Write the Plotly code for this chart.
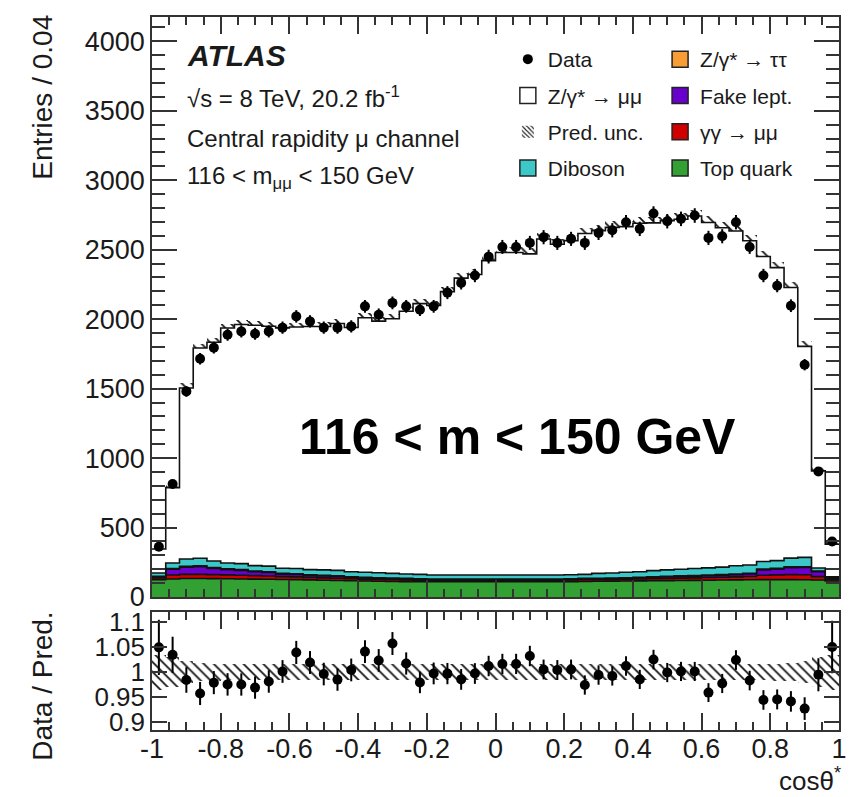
import numpy as np
import plotly.graph_objects as go

# ---------------- data ----------------
n_bins = 50
bin_edges = np.linspace(-1.0, 1.0, n_bins + 1)
bin_centers = 0.5 * (bin_edges[:-1] + bin_edges[1:])

data_counts = [362, 814, 1480, 1715, 1795, 1888, 1912, 1895, 1912, 1939,
               2020, 1984, 1939, 1939, 1948, 2092, 2032, 2117, 2092, 2068,
               2092, 2191, 2261, 2314, 2450, 2520, 2520, 2549, 2590, 2549,
               2578, 2549, 2621, 2640, 2698, 2650, 2760, 2705, 2722, 2746,
               2585, 2597, 2698, 2520, 2314, 2241, 2097, 1672, 903, 399]

pred_total = [345, 787, 1504, 1792, 1834, 1936, 1961, 1956, 1949, 1937,
              1944, 1947, 1947, 1969, 1940, 2010, 1986, 2003, 2057, 2112,
              2098, 2198, 2295, 2321, 2421, 2480, 2480, 2470, 2577, 2539,
              2565, 2617, 2637, 2661, 2666, 2690, 2693, 2708, 2719, 2743,
              2696, 2658, 2635, 2564, 2451, 2371, 2228, 1804, 908, 380]

bkg_top = [125, 130, 133, 133, 132, 131, 130, 129, 128, 126,
           125, 123, 121, 119, 117, 115, 113, 112, 111, 110,
           110, 110, 110, 110, 110, 110, 110, 110, 110, 110,
           111, 112, 113, 114, 115, 116, 117, 118, 119, 120,
           121, 122, 123, 124, 125, 125, 125, 124, 122, 115]
bkg_yy = [12, 28, 30, 30, 29, 28, 27, 25, 23, 21,
          20, 18, 17, 16, 15, 14, 13, 12, 12, 11,
          11, 10, 10, 10, 10, 10, 10, 10, 11, 11,
          11, 12, 12, 13, 13, 14, 15, 16, 17, 18,
          19, 20, 22, 24, 32, 34, 36, 36, 25, 12]
bkg_fake = [8, 42, 52, 55, 45, 38, 35, 28, 26, 18,
            17, 14, 14, 13, 10, 9, 9, 8, 7, 6,
            5, 5, 5, 5, 5, 5, 5, 5, 5, 5,
            5, 6, 6, 6, 7, 8, 9, 10, 11, 12,
            13, 14, 16, 18, 38, 42, 50, 52, 35, 8]
bkg_tautau = [4, 5, 6, 6, 6, 6, 5, 5, 5, 5,
              5, 5, 5, 5, 4, 4, 4, 4, 4, 4,
              4, 4, 4, 4, 4, 4, 4, 4, 4, 4,
              4, 4, 4, 4, 4, 4, 4, 5, 5, 5,
              5, 5, 5, 5, 6, 6, 6, 6, 5, 4]
bkg_diboson = [24, 40, 53, 55, 47, 42, 43, 39, 40, 37,
               38, 37, 38, 39, 36, 36, 36, 34, 32, 32,
               28, 29, 29, 29, 29, 29, 29, 29, 28, 28,
               29, 29, 35, 36, 39, 40, 45, 46, 48, 50,
               52, 54, 59, 59, 54, 55, 63, 67, 22, 7]

pred_unc_frac = [0.035, 0.030, 0.022, 0.018, 0.017, 0.016, 0.016, 0.016, 0.016, 0.016,
                 0.016, 0.016, 0.016, 0.016, 0.016, 0.016, 0.016, 0.016, 0.016, 0.016,
                 0.016, 0.016, 0.016, 0.016, 0.016, 0.016, 0.016, 0.016, 0.016, 0.016,
                 0.016, 0.016, 0.016, 0.016, 0.016, 0.016, 0.016, 0.016, 0.016, 0.016,
                 0.016, 0.016, 0.016, 0.016, 0.016, 0.017, 0.018, 0.022, 0.030, 0.035]

x_tick_vals = [-1, -0.8, -0.6, -0.4, -0.2, 0, 0.2, 0.4, 0.6, 0.8, 1]
x_tick_text = ["-1", "-0.8", "-0.6", "-0.4", "-0.2", "0", "0.2", "0.4", "0.6", "0.8", "1"]
r_tick_vals = [0.9, 0.95, 1.0, 1.05, 1.1]
r_tick_text = ["0.9", "0.95", "1", "1.05", "1.1"]

names = ["Top quark", "\u03b3\u03b3 \u2192 \u03bc\u03bc", "Fake lept.",
         "Z/\u03b3* \u2192 \u03c4\u03c4", "Diboson", "Z/\u03b3* \u2192 \u03bc\u03bc"]
colors = ["#33a033", "#d00000", "#6a00cc", "#f89c35", "#3cc8c8", "#ffffff"]

# ---------------- derived ----------------
data = np.array(data_counts, float)
pred = np.array(pred_total, float)
unc = np.array(pred_unc_frac, float)
bkgs = [np.array(b, float) for b in (bkg_top, bkg_yy, bkg_fake, bkg_tautau, bkg_diboson)]
zmumu = pred - sum(bkgs)
layers = bkgs + [zmumu]

FONT = "Liberation Sans, Arial, Helvetica, sans-serif"
TXT = "#1a1a1a"

# layout geometry (pixels)
W, H = 853, 797
ML, MR, MT, MB = 152, 6, 17, 67
PW, PH = W - ML - MR, H - MT - MB


def px_x(x):
    return (x - ML) / PW


def px_y(y):
    return (H - MB - y) / PH


fig = go.Figure()

# stacked step fills (main panel)
cum = np.zeros(n_bins)
for i, (vals, col) in enumerate(zip(layers, colors)):
    cum = cum + vals
    fig.add_trace(go.Scatter(
        x=bin_edges, y=np.append(cum, cum[-1]), mode="lines",
        line=dict(shape="hv", color="#111111", width=1.6),
        fill="tozeroy" if i == 0 else "tonexty", fillcolor=col,
        showlegend=False, hoverinfo="skip", xaxis="x", yaxis="y"))

# prediction uncertainty (main)
fig.add_trace(go.Bar(
    x=bin_centers, y=2 * unc * pred, base=pred * (1 - unc), width=0.04,
    marker=dict(color="rgba(0,0,0,0)", line=dict(width=0),
                pattern=dict(shape="\\", fgcolor="#111111", bgcolor="rgba(0,0,0,0)",
                             size=7, solidity=0.25, fillmode="replace")),
    showlegend=False, hoverinfo="skip", xaxis="x", yaxis="y"))

# data (main)
fig.add_trace(go.Scatter(
    x=bin_centers, y=data, mode="markers", name="Data",
    marker=dict(symbol="circle", size=10, color="black"),
    error_y=dict(type="data", array=np.sqrt(data), color="black", thickness=2, width=0),
    legend="legend", legendgroup="a1", xaxis="x", yaxis="y"))

# ratio panel
fig.add_trace(go.Bar(
    x=bin_centers, y=2 * unc, base=1 - unc, width=0.04,
    marker=dict(color="rgba(0,0,0,0)", line=dict(width=0),
                pattern=dict(shape="\\", fgcolor="#111111", bgcolor="rgba(0,0,0,0)",
                             size=7, solidity=0.25, fillmode="replace")),
    showlegend=False, hoverinfo="skip", xaxis="x2", yaxis="y2"))
fig.add_trace(go.Scatter(
    x=bin_centers, y=data / pred, mode="markers",
    marker=dict(symbol="circle", size=10, color="black"),
    error_y=dict(type="data", array=np.sqrt(data) / pred, color="black", thickness=2, width=0),
    showlegend=False, xaxis="x2", yaxis="y2"))


# legend entries
def box_entry(name, col, leg, grp):
    fig.add_trace(go.Scatter(
        x=[None], y=[None], mode="markers", name=name,
        marker=dict(symbol="square", size=22, color=col, line=dict(color="#222222", width=1.5)),
        legend=leg, legendgroup=grp, xaxis="x", yaxis="y"))


box_entry(names[5], colors[5], "legend", "a2")
fig.add_trace(go.Bar(
    x=[None], y=[None], name="Pred. unc.",
    marker=dict(color="rgba(0,0,0,0)", line=dict(width=0),
                pattern=dict(shape="\\", fgcolor="#111111", bgcolor="white",
                             size=4, solidity=0.35, fillmode="replace")),
    legend="legend", legendgroup="a3", xaxis="x", yaxis="y"))
box_entry(names[4], colors[4], "legend", "a4")
box_entry(names[3], colors[3], "legend2", "b1")
box_entry(names[2], colors[2], "legend2", "b2")
box_entry(names[1], colors[1], "legend2", "b3")
box_entry(names[0], colors[0], "legend2", "b4")

axis_common = dict(showline=True, linecolor="#333333", linewidth=1.5, mirror="ticks",
                   ticks="inside", tickcolor="#333333", tickwidth=1.5, showgrid=False,
                   zeroline=False, tickfont=dict(family=FONT, size=27, color=TXT))

main_bottom = px_y(597)
ratio_top = px_y(612)

fig.update_layout(
    width=W, height=H, margin=dict(l=ML, r=MR, t=MT, b=MB),
    paper_bgcolor="white", plot_bgcolor="white",
    barmode="overlay", bargap=0,
    font=dict(family=FONT, color=TXT),
    xaxis=dict(domain=[0, 1], anchor="y", range=[-1, 1], matches="x2", showticklabels=False,
               tickvals=x_tick_vals, ticklen=17,
               minor=dict(dtick=0.05, tick0=0, ticklen=8, ticks="inside",
                          tickcolor="#333333", tickwidth=1.5),
               **axis_common),
    yaxis=dict(domain=[main_bottom, 1], anchor="x", range=[0, 4175],
               tick0=0, dtick=500, ticklen=25,
               minor=dict(dtick=100, tick0=0, ticklen=13, ticks="inside",
                          tickcolor="#333333", tickwidth=1.5),
               **axis_common),
    xaxis2=dict(domain=[0, 1], anchor="y2", range=[-1, 1],
                tickvals=x_tick_vals, ticktext=x_tick_text, ticklen=17,
                ticklabelstandoff=-6,
                minor=dict(dtick=0.05, tick0=0, ticklen=8, ticks="inside",
                           tickcolor="#333333", tickwidth=1.5),
                **axis_common),
    yaxis2=dict(domain=[0, ratio_top], anchor="x2", range=[0.884, 1.12],
                tickvals=r_tick_vals, ticktext=r_tick_text, ticklen=15,
                **axis_common),
    legend=dict(x=px_x(512), y=px_y(39), xanchor="left", yanchor="top",
                bgcolor="rgba(0,0,0,0)", borderwidth=0, traceorder="grouped",
                tracegroupgap=6, font=dict(family=FONT, size=21, color=TXT),
                itemsizing="trace"),
    legend2=dict(x=px_x(666), y=px_y(39), xanchor="left", yanchor="top",
                 bgcolor="rgba(0,0,0,0)", borderwidth=0, traceorder="grouped",
                 tracegroupgap=6, font=dict(family=FONT, size=21, color=TXT),
                 itemsizing="trace"),
)
fig.update_yaxes(tickfont_size=26, selector=dict(anchor="x2"))

ann = []
ann.append(dict(text="<b><i>ATLAS</i></b>", x=px_x(185), y=px_y(55), xanchor="left",
                yanchor="middle", font=dict(size=30)))
ann.append(dict(text="\u221as = 8 TeV, 20.2 fb<sup>-1</sup>", x=px_x(185), y=px_y(97),
                xanchor="left", yanchor="middle", font=dict(size=24)))
ann.append(dict(text="Central rapidity \u03bc channel", x=px_x(185), y=px_y(138),
                xanchor="left", yanchor="middle", font=dict(size=24)))
ann.append(dict(text="116 < m<sub>\u03bc\u03bc</sub> < 150 GeV", x=px_x(185), y=px_y(177),
                xanchor="left", yanchor="middle", font=dict(size=24)))
ann.append(dict(text="<b>116 < m < 150 GeV</b>", x=px_x(522), y=px_y(437),
                xanchor="center", yanchor="middle", font=dict(size=50, color="black")))
ann.append(dict(text="Entries / 0.04", textangle=-90, x=px_x(41), y=px_y(13),
                xanchor="center", yanchor="top", font=dict(size=28)))
ann.append(dict(text="Data / Pred.", textangle=-90, x=px_x(41), y=px_y(610),
                xanchor="center", yanchor="top", font=dict(size=28)))
ann.append(dict(text="cos\u03b8<sup>*</sup>", x=px_x(851), y=px_y(779),
                xanchor="right", yanchor="middle", font=dict(size=26)))
for a in ann:
    a.update(xref="paper", yref="paper", showarrow=False)
    a["font"] = dict(family=FONT, color=a["font"].get("color", TXT), size=a["font"]["size"])
fig.update_layout(annotations=ann)

fig.write_html("out.html")
